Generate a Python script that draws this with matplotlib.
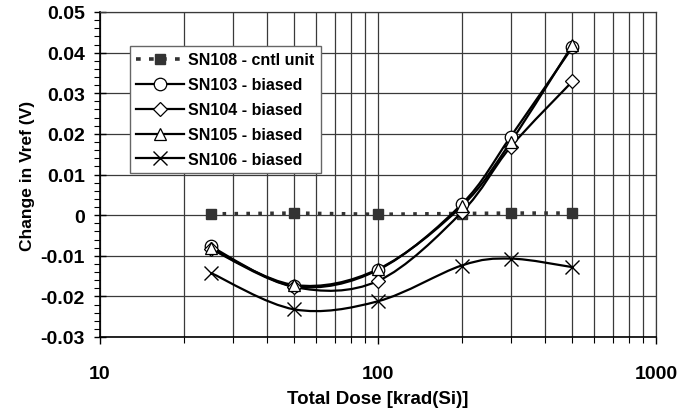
import numpy as np
import matplotlib
matplotlib.use("Agg")
import matplotlib.pyplot as plt
from matplotlib.path import Path
from matplotlib.patches import PathPatch
from matplotlib.ticker import MultipleLocator, NullFormatter

dose = [25, 50, 100, 200, 300, 500]
sn108 = [0.0003, 0.0005, 0.0002, 0.0004, 0.0005, 0.0005]
sn103 = [-0.0077, -0.0175, -0.0135, 0.0027, 0.0193, 0.0413]
sn104 = [-0.0083, -0.0177, -0.0162, 0.0007, 0.0168, 0.0329]
sn105 = [-0.0082, -0.0172, -0.0133, 0.0022, 0.0180, 0.0418]
sn106 = [-0.0142, -0.0232, -0.0212, -0.0124, -0.0107, -0.0128]

labels = ["SN108 - cntl unit", "SN103 - biased", "SN104 - biased",
          "SN105 - biased", "SN106 - biased"]
yticks = [-0.03, -0.02, -0.01, 0, 0.01, 0.02, 0.03, 0.04, 0.05]
yticklabels = ['-0.03', '-0.02', '-0.01', '0', '0.01', '0.02', '0.03', '0.04', '0.05']
xticks = [10, 100, 1000]
xticklabels = ['10', '100', '1000']

plt.rcParams['font.family'] = ['Liberation Sans', 'DejaVu Sans']
plt.rcParams['font.weight'] = 'bold'

fig = plt.figure(figsize=(6.97, 4.14), dpi=100)
ax = fig.add_axes([100/697, 1-338/414, 556/697, 325/414])
ax.set_xscale('log')
ax.set_xlim(10, 1000)
ax.set_ylim(-0.03, 0.05)


def smooth_path(xs, ys):
    lx = np.log10(np.asarray(xs, float))
    y = np.asarray(ys, float)
    P = np.column_stack([lx, y])
    n = len(P)
    verts = [P[0]]
    codes = [Path.MOVETO]
    for i in range(n - 1):
        p0 = P[i - 1] if i > 0 else P[i]
        p1 = P[i]
        p2 = P[i + 1]
        p3 = P[i + 2] if i + 2 < n else P[i + 1]
        c1 = p1 + (p2 - p0) / 6.0
        c2 = p2 - (p3 - p1) / 6.0
        verts += [c1, c2, p2]
        codes += [Path.CURVE4] * 3
    v = np.array(verts)
    v[:, 0] = 10 ** v[:, 0]
    return Path(v, codes)


gridc = '#3a3a3a'
ax.grid(True, which='major', axis='both', color=gridc, lw=0.9)
ax.grid(True, which='minor', axis='x', color=gridc, lw=0.9)
ax.set_axisbelow(True)

# control unit: dotted straight line with square markers
ax.plot(dose, sn108, color='#333333', lw=2.6, ls=(0, (1.0, 2.3)),
        marker='s', ms=7.5, mfc='#333333', mec='#333333', zorder=3)

styles = [('o', sn103), ('D', sn104), ('^', sn105), ('x', sn106)]
for mk, vals in styles:
    pth = smooth_path(dose, vals)
    ax.add_patch(PathPatch(pth, fill=False, ec='black', lw=1.6, zorder=3))
    if mk == 'x':
        ax.plot(dose, vals, ls='none', marker='x', ms=10, mec='black', mew=1.0, zorder=4)
    else:
        ms = 9 if mk != 'D' else 7
        ax.plot(dose, vals, ls='none', marker=mk, ms=ms, mfc='white', mec='black', mew=0.9, zorder=4)

# legend handles
h108, = ax.plot([], [], color='#333333', lw=2.6, ls=(0, (1.3, 2.3)), marker='s', ms=7.5,
                mfc='#333333', mec='#333333')
hs = [h108]
for mk in ['o', 'D', '^', 'x']:
    if mk == 'x':
        h, = ax.plot([], [], color='black', lw=1.6, marker='x', ms=10, mew=1.0)
    else:
        h, = ax.plot([], [], color='black', lw=1.6, marker=mk, ms=9 if mk != 'D' else 7,
                     mfc='white', mec='black', mew=0.9)
    hs.append(h)
leg = ax.legend(hs, labels, loc='upper left', bbox_to_anchor=(30/556, 1-34/325),
                frameon=True, fancybox=False, edgecolor='#666666', framealpha=1,
                prop={'weight': 'bold', 'size': 11.5}, handlelength=3.0,
                handletextpad=0.25, labelspacing=0.62, borderpad=0.4, borderaxespad=0)
leg.get_frame().set_linewidth(1.0)

ax.yaxis.set_minor_locator(MultipleLocator(0.002))
ax.set_yticks(yticks)
ax.set_yticklabels(yticklabels)
ax.set_xticks(xticks)
ax.set_xticklabels(xticklabels)
ax.xaxis.set_minor_formatter(NullFormatter())

ax.tick_params(axis='y', which='major', direction='inout', length=8, width=1, labelsize=14, pad=7)
ax.tick_params(axis='y', which='minor', direction='out', length=4, width=0.8)
ax.tick_params(axis='x', which='major', direction='out', length=5, width=1, labelsize=14, pad=15)
ax.tick_params(axis='x', which='minor', direction='out', length=4, width=0.8)
for lab in ax.get_xticklabels() + ax.get_yticklabels():
    lab.set_fontweight('bold')

for side in ['left', 'bottom']:
    ax.spines[side].set_linewidth(1.2)
    ax.spines[side].set_color('black')
for side in ['top', 'right']:
    ax.spines[side].set_linewidth(0.9)
    ax.spines[side].set_color(gridc)

ax.set_ylabel('Change in Vref (V)', fontsize=12.5, fontweight='bold', labelpad=4)
ax.set_xlabel('Total Dose [krad(Si)]', fontsize=13.5, fontweight='bold', labelpad=6)

fig.savefig('out.png', dpi=100)
